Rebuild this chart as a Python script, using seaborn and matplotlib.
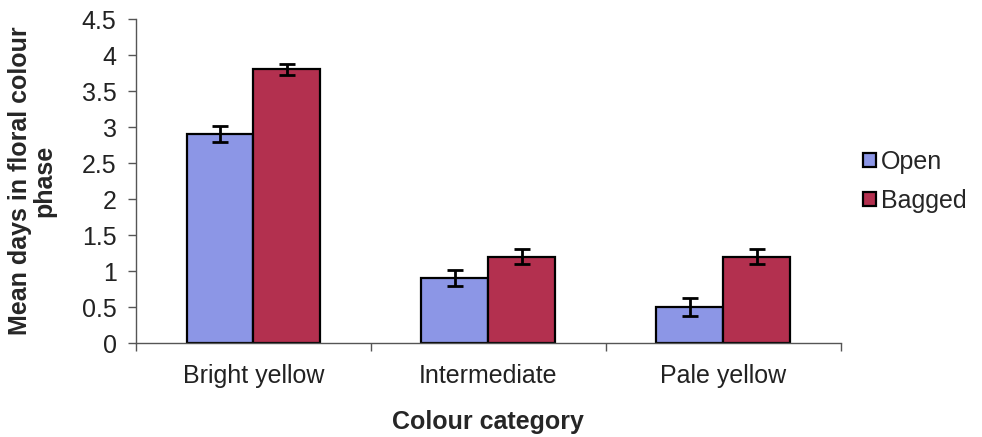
import pandas as pd
import numpy as np
import matplotlib
matplotlib.use('Agg')
import matplotlib.pyplot as plt
import seaborn as sns

# ------------------------------------------------------------ #
# data
# ------------------------------------------------------------ #
categories = ['Bright yellow', 'Intermediate', 'Pale yellow']
open_mean = [2.9, 0.9, 0.5]
open_err = [0.11, 0.11, 0.12]
bagged_mean = [3.8, 1.2, 1.2]
bagged_err = [0.08, 0.1, 0.1]
y_ticks = [0, 0.5, 1, 1.5, 2, 2.5, 3, 3.5, 4, 4.5]

df = pd.DataFrame({
    'Colour category': categories * 2,
    'Mean': open_mean + bagged_mean,
    'Err': open_err + bagged_err,
    'Treatment': ['Open'] * 3 + ['Bagged'] * 3,
})

sns.set_style('white')
plt.rcParams['font.family'] = ['Liberation Sans', 'DejaVu Sans']
fs = 18

fig = plt.figure(figsize=(9.82, 4.37), dpi=100)
ax = fig.add_axes([0.1385, 0.215, 0.7175, 0.7415])

palette = {'Open': '#8c96e6', 'Bagged': '#b3304f'}
sns.barplot(data=df, x='Colour category', y='Mean', hue='Treatment',
            palette=palette, saturation=1, width=0.57, errorbar=None,
            edgecolor='black', linewidth=1.6, ax=ax)

# error bars at bar centres
for container, treat in zip(ax.containers, ['Open', 'Bagged']):
    sub = df[df['Treatment'] == treat]
    xs = [p.get_x() + p.get_width() / 2 for p in container.patches]
    ax.errorbar(xs, sub['Mean'], yerr=sub['Err'], fmt='none', ecolor='black',
                elinewidth=2, capsize=6, capthick=2)

ax.set_xlim(-0.5, 2.5)
ax.set_ylim(0, 4.5)
ax.set_yticks(y_ticks)
ax.set_yticklabels([f'{t:g}' for t in y_ticks], fontsize=fs, color='#222222')
ax.set_xticks([0, 1, 2])
ax.set_xticklabels(categories, fontsize=fs, color='#222222')
ax.tick_params(axis='x', length=0, pad=15)
ax.tick_params(axis='y', left=True, length=6, width=1, color='#555555', pad=8)
# minor ticks at category boundaries on x
ax.set_xticks([-0.5, 0.5, 1.5, 2.5], minor=True)
ax.tick_params(axis='x', which='minor', bottom=True, length=6, width=1, color='#555555')

for s in ['top', 'right']:
    ax.spines[s].set_visible(False)
for s in ['left', 'bottom']:
    ax.spines[s].set_color('#555555')
    ax.spines[s].set_linewidth(1)

ax.set_ylabel('Mean days in floral colour\nphase', fontsize=fs, fontweight='bold',
              labelpad=18, linespacing=1.05)
ax.set_xlabel('Colour category', fontsize=fs, fontweight='bold', labelpad=16)

leg = ax.legend(loc='center left', bbox_to_anchor=(1.0, 0.50), frameon=False,
                fontsize=fs, handlelength=0.5, handleheight=0.5, handletextpad=0.2,
                labelspacing=0.6)

fig.savefig('out.png', dpi=100)
